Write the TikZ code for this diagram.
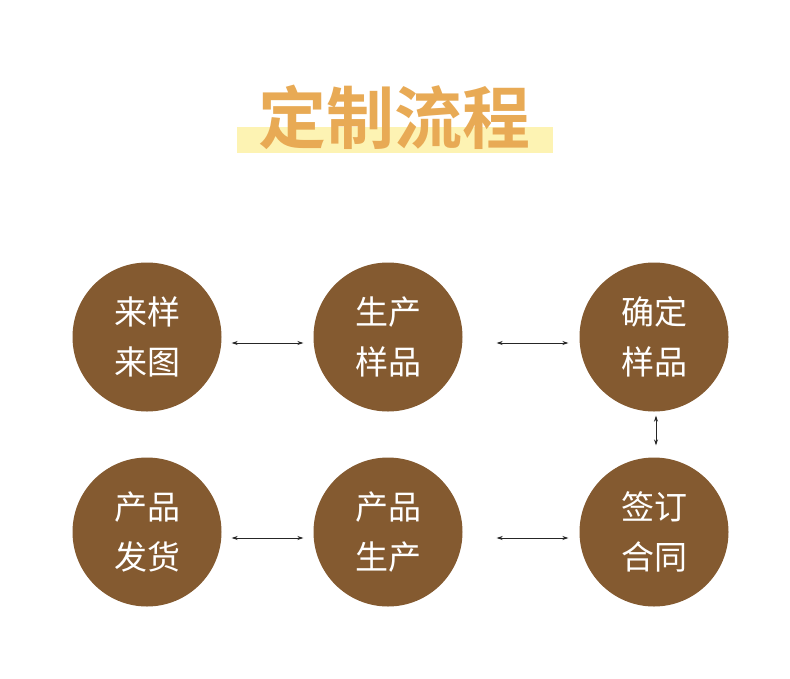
\documentclass[tikz,border=0pt]{standalone}
\usepackage{fontspec}
\newfontfamily\cjk{Noto Sans CJK SC}
\newfontfamily\cjkbold{Noto Sans CJK SC Bold}
\usetikzlibrary{arrows.meta}
\definecolor{stepbrown}{HTML}{845A30}
\definecolor{titleorange}{HTML}{E8AA55}
\definecolor{baryellow}{HTML}{FDF3B3}

\begin{document}
\begin{tikzpicture}[x=1pt,y=-1pt,
  stepcircle/.style={circle,fill=stepbrown,minimum size=149pt,inner sep=0pt,
    text=white,align=center,font=\cjk\fontsize{33}{50}\selectfont},
  link/.style={{Stealth[length=6pt,width=4pt]}-{Stealth[length=6pt,width=4pt]},
    line width=0.8pt,black!85}]
\useasboundingbox (0,0) rectangle (790,678);
\fill[white] (0,0) rectangle (790,678);
% title
\fill[baryellow] (237,127) rectangle (553,153);
\node (title) at (394,117) {\cjkbold\fontsize{68}{68}\selectfont\color{titleorange}定制流程};
% steps
\node[stepcircle] (lai)   at (147,337) {来样\\来图};
\node[stepcircle] (sheng) at (388,337) {生产\\样品};
\node[stepcircle] (que)   at (654,337) {确定\\样品};
\node[stepcircle] (qian)  at (654,532) {签订\\合同};
\node[stepcircle] (chan)  at (388,532) {产品\\生产};
\node[stepcircle] (fa)    at (147,532) {产品\\发货};
% connectors
\draw[link] ([shift={(10,6)}]lai.east) -- ([shift={(-10,6)}]sheng.west);
\draw[link] ([shift={(34,6)}]sheng.east) -- ([shift={(-11,6)}]que.west);
\draw[link] ([shift={(2,4)}]que.south) -- ([shift={(2,-12)}]qian.north);
\draw[link] ([shift={(34,6)}]chan.east) -- ([shift={(-11,6)}]qian.west);
\draw[link] ([shift={(10,6)}]fa.east) -- ([shift={(-10,6)}]chan.west);
\end{tikzpicture}
\end{document}
